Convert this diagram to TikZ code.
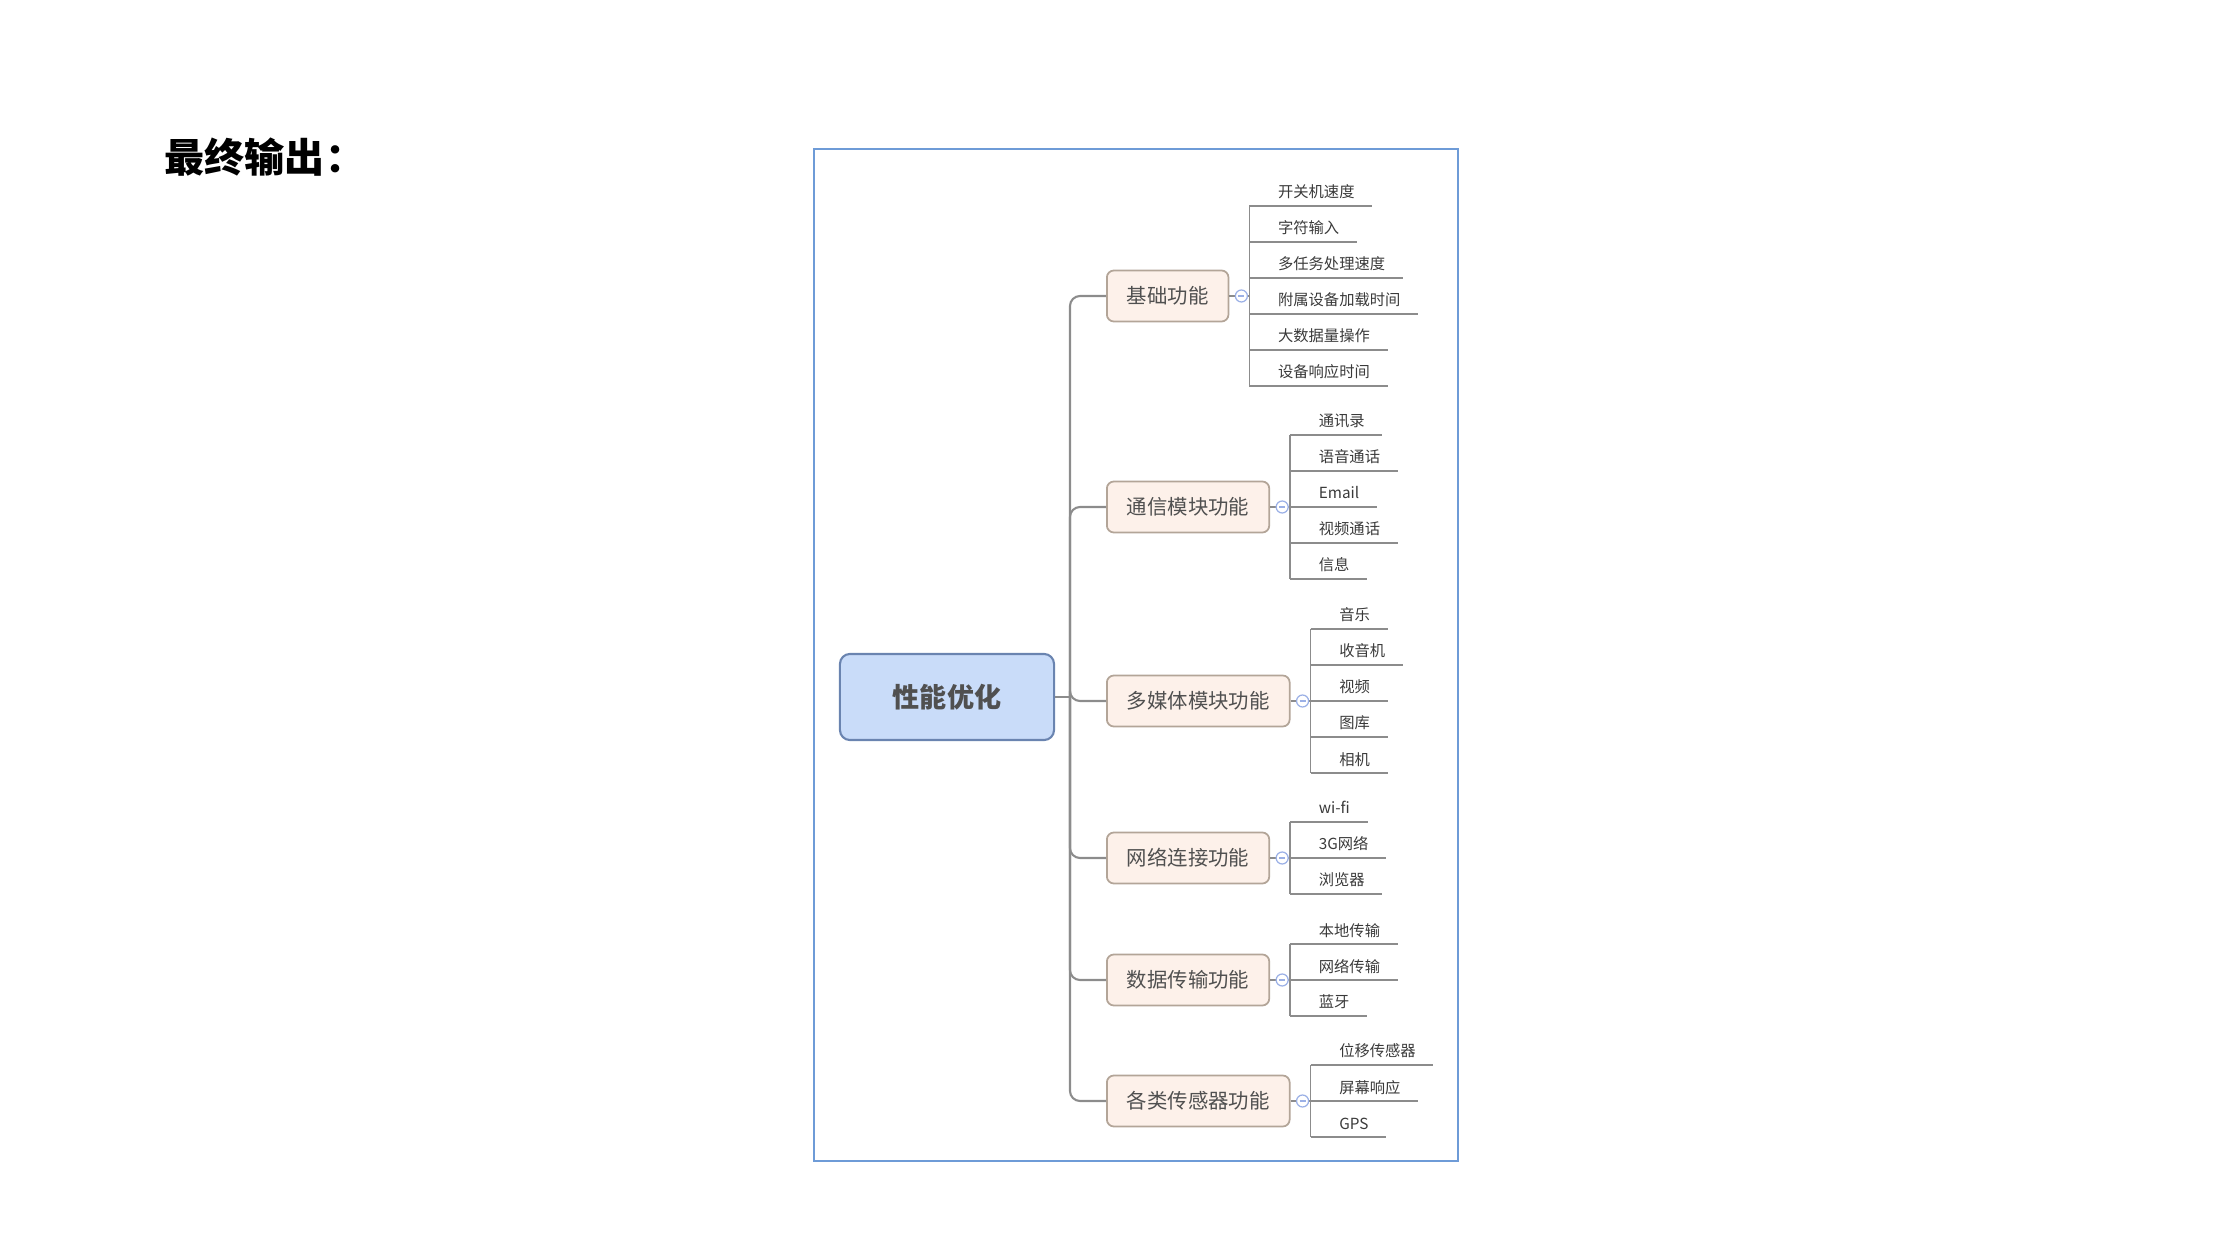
\documentclass[tikz,border=0pt]{standalone}
\usepackage{fontspec}
\newfontfamily\cjk{Noto Sans CJK SC}
\usepackage{xcolor}
\usepackage{tikz}
\usetikzlibrary{calc}

\definecolor{framec}{HTML}{6E9BD7}
\definecolor{rootfill}{HTML}{C9DCF9}
\definecolor{rootline}{HTML}{6A84B0}
\definecolor{branchfill}{HTML}{FDF1EA}
\definecolor{branchline}{HTML}{B3A598}
\definecolor{textgray}{HTML}{505050}
\definecolor{leaftext}{HTML}{3A3A3A}
\definecolor{linegray}{HTML}{8C8C8C}
\definecolor{togglec}{HTML}{9BB0E6}

\tikzset{
  titletext/.style={inner sep=0pt, text=black, font=\cjk\bfseries\fontsize{11.4}{13}\selectfont},
  rootbox/.style={draw=rootline, fill=rootfill, line width=0.6pt, rounded corners=0.1cm,
    minimum width=2.14cm, minimum height=0.86cm, text=textgray,
    font=\cjk\bfseries\fontsize{7.7}{9}\selectfont},
  branchbox/.style={draw=branchline, fill=branchfill, line width=0.5pt, rounded corners=0.07cm,
    inner xsep=0.2cm, minimum height=0.51cm, text=textgray,
    font=\cjk\fontsize{5.8}{7}\selectfont},
  leaf/.style={inner sep=0pt, text=leaftext, font=\cjk\fontsize{4.35}{5}\selectfont},
  trunkline/.style={draw=linegray, line width=0.6pt, rounded corners=0.1cm},
  leafline/.style={draw=linegray, line width=0.45pt},
  toggle/.style={circle, draw=togglec, fill=white, line width=0.35pt, minimum size=0.12cm, inner sep=0pt,
    path picture={\draw[togglec, line width=0.35pt]
      ([xshift=-0.03cm]path picture bounding box.center) -- ([xshift=0.03cm]path picture bounding box.center);}}
}

% leaves of one branch: #1 branch node, #2 number of leaves, #3 list
\newcommand{\leafset}[3]{
  \coordinate (#1-v) at ([xshift=0.2cm]#1.east);
  \draw[leafline] (#1.east) -- (#1-v);
  \node[toggle] (#1-t) at ([xshift=0.12cm]#1.east) {};
  \foreach \t [count=\k] in {#3}{
    \coordinate (#1-u\k) at ($(#1-v)+(0,{(\k-(#2+1)/2)*36})$);
    \node[leaf, anchor=base west] (#1-l\k) at ($(#1-u\k)+(28,-8)$) {\t};
    \draw[leafline] (#1-u\k) -- ($(#1-l\k.base east |- #1-u\k)+(17,0)$);
  }
  \draw[leafline] (#1-u1) -- (#1-u#2);
}

\begin{document}
\begin{tikzpicture}[x=0.01cm, y=-0.01cm]
\useasboundingbox (0,0) rectangle (2220,1249);
\node (title) at (164,157) [titletext, anchor=west] {最终输出：};
\draw[framec, line width=0.75pt] (814,149) rectangle (1458,1161);
%
\node (root) at (947,697) [rootbox] {性能优化};
\coordinate (fork) at (1070,697);
\node (jichu) at (1106,296) [branchbox, anchor=west] {基础功能};
\node (tongxin) at (1106,507) [branchbox, anchor=west] {通信模块功能};
\node (duomeiti) at (1106,701) [branchbox, anchor=west] {多媒体模块功能};
\node (wangluo) at (1106,858) [branchbox, anchor=west] {网络连接功能};
\node (shuju) at (1106,980) [branchbox, anchor=west] {数据传输功能};
\node (chuangan) at (1106,1101) [branchbox, anchor=west] {各类传感器功能};
%
\draw[trunkline] (root.east) -- (fork);
\foreach \b in {jichu,tongxin,duomeiti,wangluo,shuju,chuangan}
  \draw[trunkline] (fork) -- (fork |- \b.west) -- (\b.west);
%
\leafset{jichu}{6}{开关机速度,字符输入,多任务处理速度,附属设备加载时间,大数据量操作,设备响应时间}
\leafset{tongxin}{5}{通讯录,语音通话,Email,视频通话,信息}
\leafset{duomeiti}{5}{音乐,收音机,视频,图库,相机}
\leafset{wangluo}{3}{wi-fi,3G网络,浏览器}
\leafset{shuju}{3}{本地传输,网络传输,蓝牙}
\leafset{chuangan}{3}{位移传感器,屏幕响应,GPS}
\end{tikzpicture}
\end{document}
